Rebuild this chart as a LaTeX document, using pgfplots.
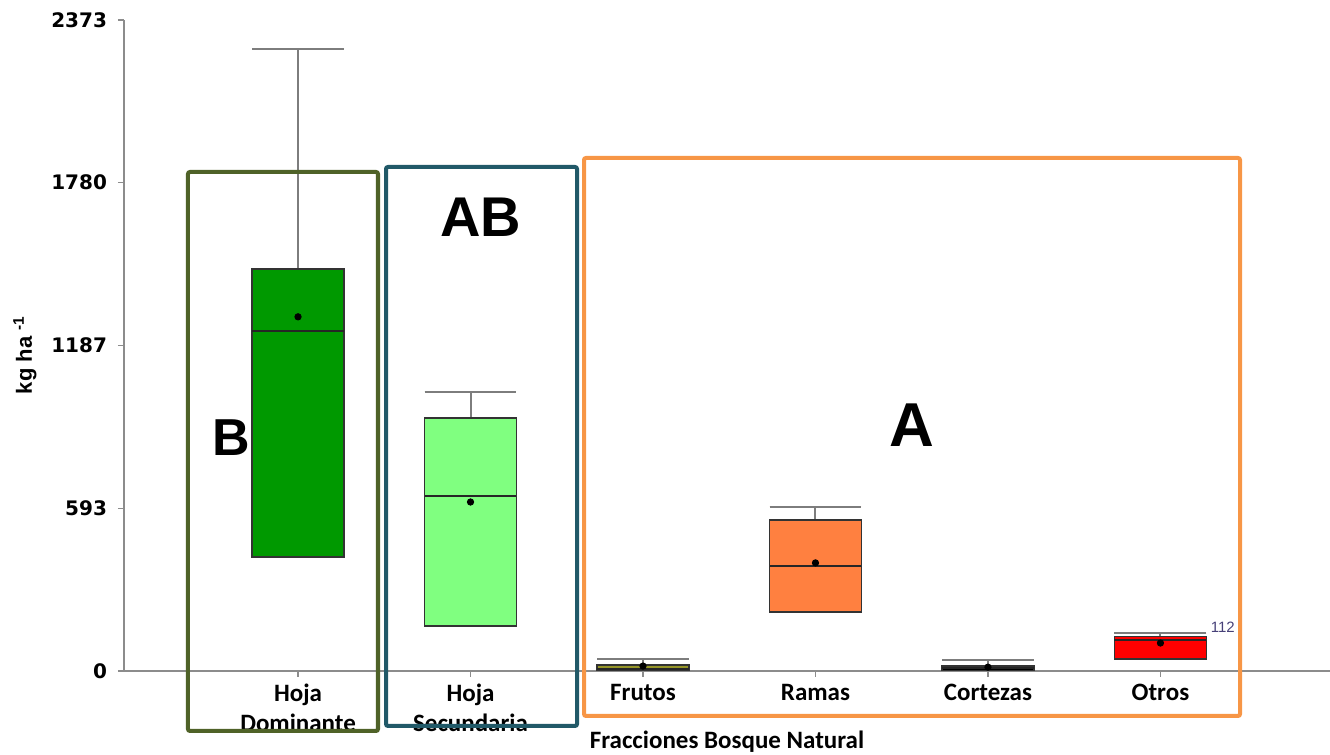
\documentclass[border=0pt]{standalone}
\usepackage{pgfplots}
\pgfplotsset{compat=1.18}
\usepgfplotslibrary{statistics}
\usepackage{fontspec}
\setmainfont{Carlito}
\newfontfamily\tickfont{DejaVu Sans}
\newfontfamily\arialfont{Liberation Sans}

\definecolor{domgreen}{RGB}{0,153,0}
\definecolor{secgreen}{RGB}{128,255,128}
\definecolor{frutfill}{RGB}{150,150,40}
\definecolor{ramafill}{RGB}{255,128,64}
\definecolor{otrofill}{RGB}{255,0,0}
\definecolor{frameB}{RGB}{79,98,40}
\definecolor{frameAB}{RGB}{33,89,104}
\definecolor{frameA}{RGB}{247,150,70}
\definecolor{axisgray}{RGB}{140,140,140}
\definecolor{capgray}{RGB}{125,125,125}
\definecolor{notegray}{RGB}{70,64,120}

\begin{document}
\begin{tikzpicture}
\useasboundingbox (-62pt,-42pt) rectangle (603pt,335.5pt);
\begin{axis}[
  scale only axis, width=603pt, height=325.5pt,
  xmin=-1.009, xmax=5.983, ymin=0, ymax=2373,
  axis x line=bottom, axis y line=left,
  axis line style={-, draw=axisgray, line width=1pt},
  tick align=outside, major tick length=3pt,
  tick style={draw=axisgray, line width=0.8pt},
  xtick={0,...,5},
  xticklabels={{Hoja\\Dominante},{Hoja\\Secundaria},Frutos,Ramas,Cortezas,Otros},
  xticklabel style={align=center, font=\bfseries\fontsize{12.5}{15}\selectfont},
  ytick={0,593,1187,1780,2373},
  yticklabels={0,593,1187,1780,2373},
  yticklabel style={font=\tickfont\bfseries\fontsize{10}{12}\selectfont, xshift=-2pt},
  xlabel={Fracciones Bosque Natural},
  xlabel style={at={(axis description cs:0.5,0)}, anchor=center, yshift=-35.5pt,
    font=\bfseries\fontsize{12.5}{15}\selectfont},
  ylabel={kg ha \textsuperscript{-1}},
  ylabel style={at={(axis description cs:-0.0821,0.4854)}, anchor=center,
    font=\arialfont\bfseries\fontsize{11}{13}\selectfont},
  clip=false,
  boxplot/draw direction=y,
  boxplot/box extend=0.533,
  boxplot/whisker extend=0.533,
  boxplot/every whisker/.style={draw=capgray, line width=1pt},
  boxplot/every median/.style={draw=black!85, line width=0.9pt},
  boxplot/every box/.style={draw=black!80, line width=0.8pt},
]
% Hoja Dominante
\addplot[fill=domgreen, boxplot prepared={lower whisker=416, lower quartile=416,
  median=1240, upper quartile=1466, upper whisker=2268, draw position=0}] coordinates {};
% Hoja Secundaria
\addplot[fill=secgreen, boxplot prepared={lower whisker=164, lower quartile=164,
  median=638, upper quartile=922, upper whisker=1017, draw position=1}] coordinates {};
% Frutos
\addplot[fill=frutfill, boxplot prepared={lower whisker=2, lower quartile=2,
  median=8, upper quartile=22, upper whisker=42, draw position=2}] coordinates {};
% Ramas
\addplot[fill=ramafill, boxplot prepared={lower whisker=215, lower quartile=215,
  median=384, upper quartile=550, upper whisker=598, draw position=3}] coordinates {};
% Cortezas
\addplot[fill=black, boxplot prepared={lower whisker=2, lower quartile=2,
  median=10, upper quartile=18, upper whisker=40, draw position=4}] coordinates {};
% Otros
\addplot[fill=otrofill, boxplot prepared={lower whisker=44, lower quartile=44,
  median=112, upper quartile=126, upper whisker=138, draw position=5}] coordinates {};
% means of each fraction
\addplot[only marks, mark=*, mark size=1.6pt, black] coordinates {
  (0,1291) (1,616) (2,18) (3,394) (4,14) (5,102)};
\node[anchor=south west, text=notegray, font=\arialfont\fontsize{7.5}{9}\selectfont,
  inner sep=0pt] at (axis cs:5.29,140) {112};
\end{axis}
% group frames
\draw[frameB, line width=2pt, rounded corners=1pt] (32pt,-30pt) rectangle (127pt,249.5pt);
\draw[frameAB, line width=2pt, rounded corners=1pt] (131pt,-27.5pt) rectangle (226.5pt,252pt);
\draw[frameA, line width=2pt, rounded corners=1pt] (230pt,-22.5pt) rectangle (558pt,256.5pt);
% group letters
\node[font=\arialfont\bfseries\fontsize{26}{30}\selectfont] at (53.5pt,116.5pt) {B};
\node[font=\arialfont\bfseries\fontsize{28}{32}\selectfont] at (178.5pt,227pt) {AB};
\node[font=\arialfont\bfseries\fontsize{31}{36}\selectfont] at (394pt,123pt) {A};
\end{tikzpicture}
\end{document}
